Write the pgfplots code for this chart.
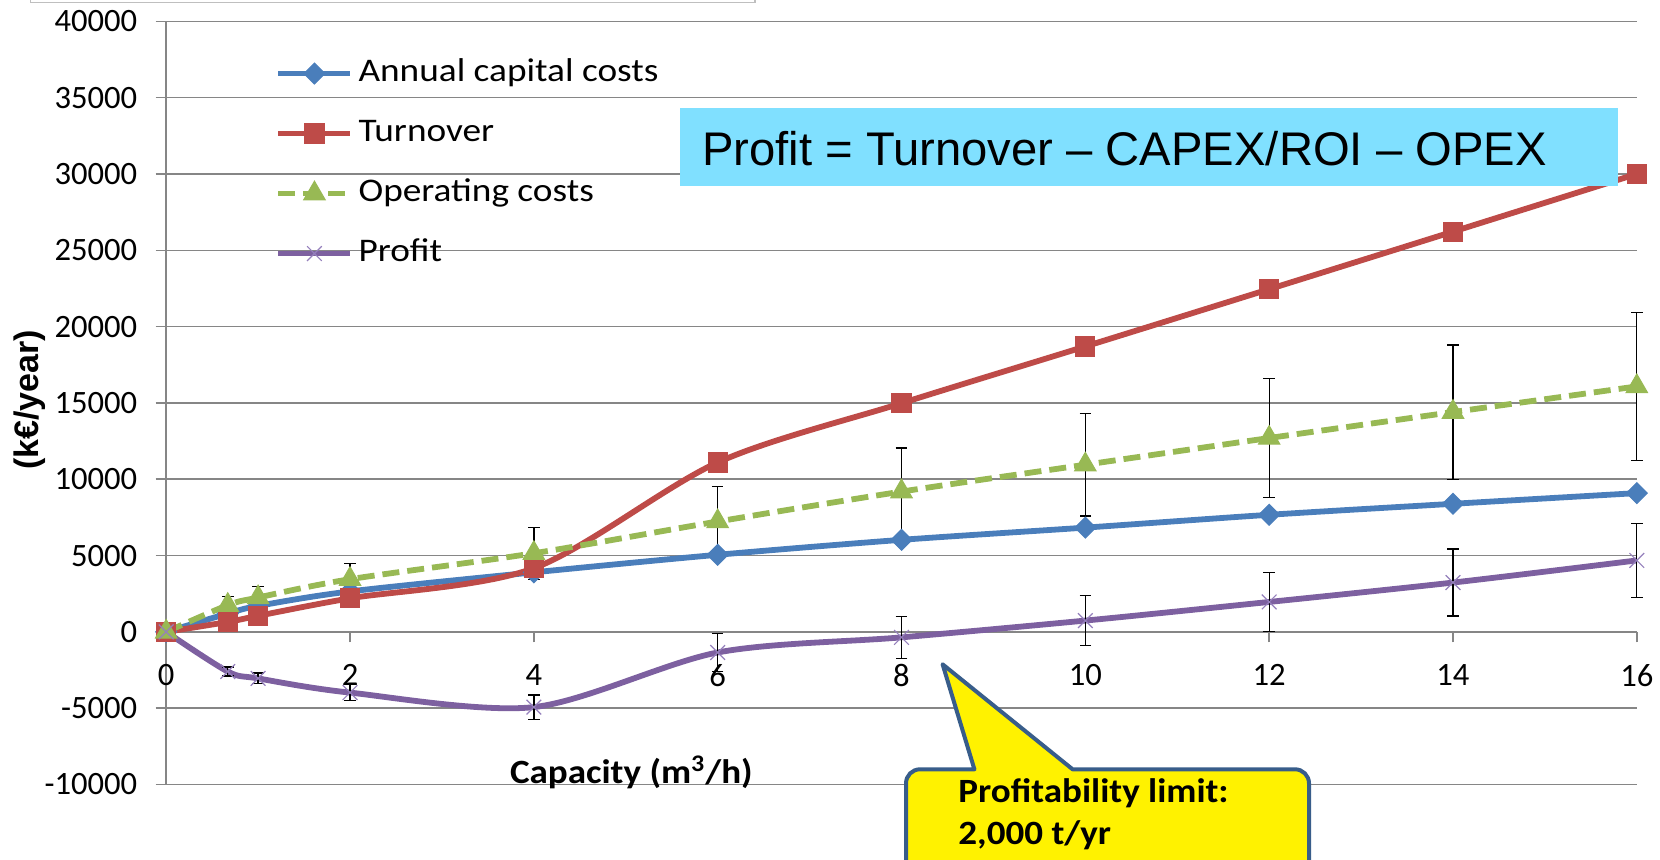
\documentclass[border=0pt]{standalone}
\usepackage{pgfplots}
\pgfplotsset{compat=1.18}
\usepackage{pgfplotstable}
\usepackage{fontspec}
\setmainfont{Carlito}
\newfontfamily\arialfont{Liberation Sans}
\newfontfamily\legfont{Carlito}[FakeStretch=1.13]
\newfontfamily\boldfont{Carlito}[FakeStretch=1.09]
\definecolor{cblue}{HTML}{4A7EBB}
\definecolor{cred}{HTML}{BE4B48}
\definecolor{cgreen}{HTML}{98B954}
\definecolor{cpurple}{HTML}{7D60A0}
\definecolor{cpmark}{HTML}{9580BC}
\definecolor{cgrid}{HTML}{868686}
\definecolor{ccyan}{HTML}{80E0FF}
\definecolor{cborder}{HTML}{385D8A}
\definecolor{cbox}{HTML}{BFBFBF}

\pgfplotstableread{
x y
0 0
0.67 1200
1 1700
2 2650
4 3900
6 5050
8 6030
10 6830
12 7670
14 8390
16 9090
}\capital

\pgfplotstableread{
x y
0 0
0.67 650
1 1050
2 2200
4 4170
6 11100
8 14980
10 18700
12 22450
14 26220
16 30000
}\turnover

\pgfplotstableread{
x y e
0 0 0
0.67 1750 560
1 2250 720
2 3450 1050
4 5150 1700
6 7230 2290
8 9190 2850
10 10950 3350
12 12700 3880
14 14400 4400
16 16080 4860
}\opex

\pgfplotstableread{
x y e
0 0 0
0.67 -2600 300
1 -3050 350
2 -3980 520
4 -4930 790
6 -1350 1230
8 -360 1380
10 740 1650
12 1960 1930
14 3230 2190
16 4680 2430
}\profit

\begin{document}
\begin{tikzpicture}
\path[use as bounding box] (0,0) rectangle (830pt,429.5pt);
\draw[cbox, line width=0.75pt] (15.3pt,432pt) -- (15.3pt,428.15pt) -- (377.5pt,428.15pt) -- (377.5pt,432pt);
\begin{axis}[
  at={(83.1pt,37.25pt)}, anchor=south west,
  scale only axis, width=735.3pt, height=381.6pt,
  xmin=0, xmax=16, ymin=-10000, ymax=40000,
  axis x line=middle, axis y line=left,
  axis line style={-, draw=cgrid, line width=0.75pt},
  hide obscured x ticks=false, hide obscured y ticks=false,
  xtick={0,2,...,16}, xticklabels={0,2,4,6,8,10,12,14,16},
  ytick={-10000,-5000,...,40000},
  yticklabels={-10000,-5000,0,5000,10000,15000,20000,25000,30000,35000,40000},
  tick align=outside, major tick length=5.3pt,
  tick style={draw=cgrid, line width=0.75pt},
  ymajorgrids, grid style={draw=cgrid, line width=0.75pt},
  ticklabel style={font=\fontsize{16.3}{19}\selectfont, inner sep=0pt},
  xticklabel style={anchor=north, yshift=-10.7pt},
  yticklabel style={anchor=east, xshift=-9pt},
  xlabel={Capacity (m\textsuperscript{3}/h)},
  xlabel style={at={(rel axis cs:0.3163,0.0159)}, anchor=center, inner sep=0pt, font=\boldfont\bfseries\fontsize{17}{20}\selectfont},
  ylabel={(k€/year)},
  ylabel style={at={(rel axis cs:-0.093,0.504)}, anchor=center, inner sep=0pt, font=\arialfont\bfseries\fontsize{17}{20}\selectfont},
  legend style={at={(rel axis cs:0.0741,0.953)}, anchor=north west, draw=none, fill=none, inner sep=0pt,
    font=\legfont\fontsize{16.5}{19}\selectfont, row sep=14pt,
    nodes={inner sep=0pt, text height=12pt, text depth=4pt},
    /tikz/every odd column/.append style={column sep=2.6pt}},
  legend cell align=left,
  legend image code/.code={\draw[mark repeat=2,mark phase=2,#1] plot coordinates {(0pt,0pt) (18pt,0pt) (36pt,0pt)};},
  clip=false,
]
\addplot[cblue, line width=2.9pt, smooth, tension=0.5, mark=square*, mark size=3.7pt,
  mark options={solid, rotate=45, fill=cblue, line width=0.5pt}] table[x=x,y=y]{\capital};
\addlegendentry{Annual capital costs}
\addplot[cred, line width=2.9pt, smooth, tension=0.5, mark=square*, mark size=4.8pt,
  mark options={solid, fill=cred, line width=0.5pt}] table[x=x,y=y]{\turnover};
\addlegendentry{Turnover}
\addplot[cgreen, line width=2.9pt, dash pattern=on 8.5pt off 4pt, smooth, tension=0.5, mark=triangle*, mark size=6.2pt,
  mark options={solid, fill=cgreen, line width=0.5pt},
  error bars/.cd, y dir=both, y explicit,
  error bar style={black, line width=0.65pt, solid},
  error mark options={rotate=90, black, mark size=2.9pt, line width=0.65pt, solid}] table[x=x,y=y,y error=e]{\opex};
\addlegendentry{Operating costs}
\addplot[cpurple, line width=2.9pt, smooth, tension=0.5, mark=x, mark size=5.2pt,
  mark options={solid, draw=cpmark, line width=0.6pt},
  error bars/.cd, y dir=both, y explicit,
  error bar style={black, line width=0.65pt, solid},
  error mark options={rotate=90, black, mark size=2.9pt, line width=0.65pt, solid}] table[x=x,y=y,y error=e]{\profit};
\addlegendentry{Profit}
\end{axis}
% formula box
\fill[ccyan] (339.9pt,336.5pt) rectangle (808.9pt,375.5pt);
\node[anchor=west, inner sep=0pt, font=\arialfont\fontsize{23.6}{28}\selectfont] at (351pt,355.4pt) {Profit = Turnover – CAPEX/ROI – OPEX};
% callout
\draw[fill=yellow, draw=cborder, line width=2pt, line join=round]
  (453pt,-10pt) [rounded corners=7pt] -- (453pt,44.85pt) [sharp corners] -- (487.2pt,44.85pt) -- (471.3pt,97.35pt) -- (536.3pt,44.85pt) [rounded corners=7pt] -- (654.5pt,44.85pt) [sharp corners] -- (654.5pt,-10pt) -- cycle;
\node[anchor=west, inner sep=0pt, font=\boldfont\bfseries\fontsize{17}{20}\selectfont] at (479pt,33pt) {Profitability limit:};
\node[anchor=west, inner sep=0pt, font=\boldfont\bfseries\fontsize{17}{20}\selectfont] at (479pt,11.85pt) {2,000 t/yr};
\end{tikzpicture}
\end{document}
